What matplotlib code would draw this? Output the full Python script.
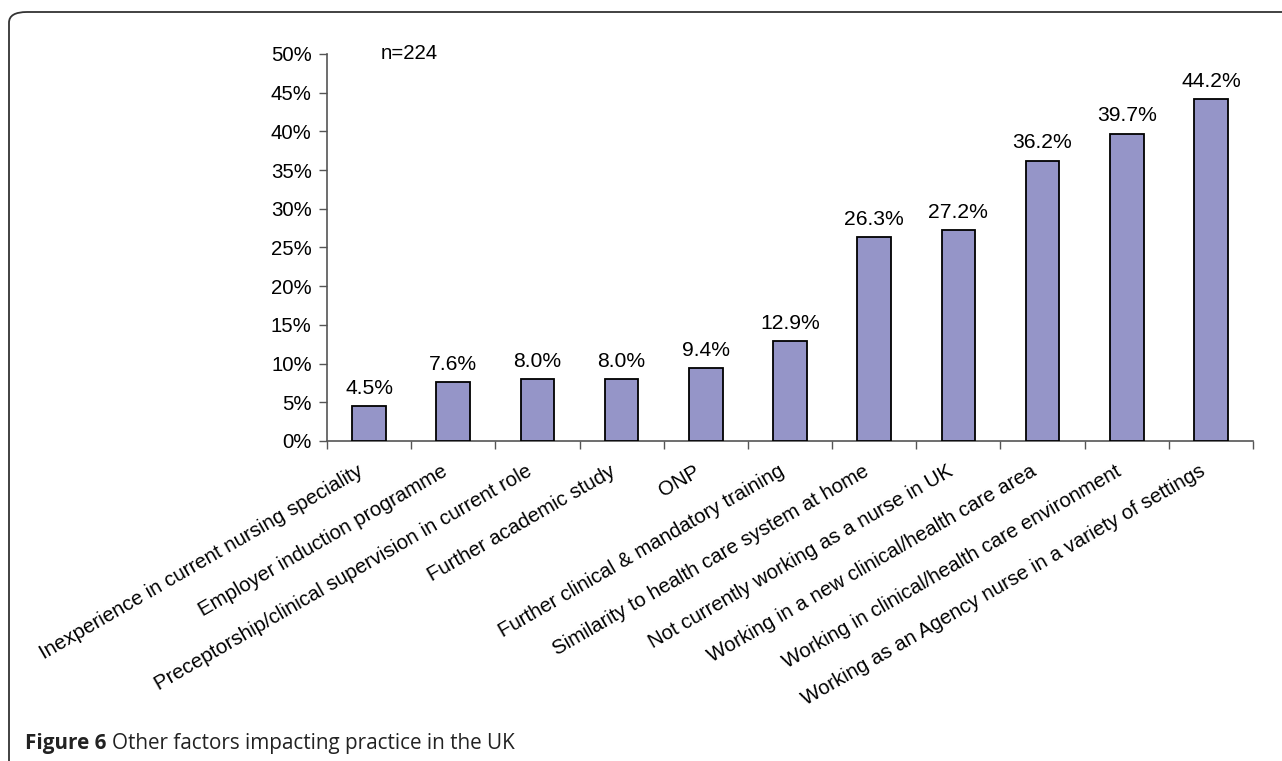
import matplotlib.pyplot as plt
from matplotlib.patches import FancyBboxPatch
from matplotlib.ticker import FixedLocator, PercentFormatter
from matplotlib.transforms import ScaledTranslation

categories = [
    "Inexperience in current nursing speciality",
    "Employer induction programme",
    "Preceptorship/clinical supervision in current role",
    "Further academic study",
    "ONP",
    "Further clinical & mandatory training",
    "Similarity to health care system at home",
    "Not currently working as a nurse in UK",
    "Working in a new clinical/health care area",
    "Working in clinical/health care environment",
    "Working as an Agency nurse in a variety of settings",
]
values = [4.5, 7.6, 8.0, 8.0, 9.4, 12.9, 26.3, 27.2, 36.2, 39.7, 44.2]
yticks = [0, 5, 10, 15, 20, 25, 30, 35, 40, 45, 50]

plt.rcParams['font.family'] = ['Liberation Sans', 'DejaVu Sans']

W, H = 1282, 761
fig = plt.figure(figsize=(W / 100, H / 100), dpi=100)

# frame around the figure panel (open to the right and bottom)
frame = FancyBboxPatch((9 / W, -0.1), 1.2, (H - 12) / H + 0.1,
                       boxstyle="round,pad=0,rounding_size=0.014",
                       transform=fig.transFigure, fill=False,
                       edgecolor='#333333', linewidth=1.3)
fig.patches.append(frame)

ax = fig.add_axes([327 / W, 1 - 441 / H, (1253 - 327) / W, (441 - 54) / H])
x = list(range(len(categories)))
ax.bar(x, values, width=0.4, color='#9595c8', edgecolor='black', linewidth=1.3, zorder=3)

for xi, v in zip(x, values):
    ax.annotate(f"{v:.1f}%", (xi, v), xytext=(0, 6), textcoords='offset points',
                ha='center', va='bottom', fontsize=15.2)

ax.set_xlim(-0.5, len(categories) - 0.5)
ax.set_ylim(0, 50)
ax.set_yticks(yticks)
ax.yaxis.set_major_formatter(PercentFormatter(decimals=0))
ax.tick_params(axis='y', labelsize=14.7, length=6, width=1, color='#555555', pad=5)

# category ticks sit between bars, labels under each bar
ax.set_xticks(x)
ax.set_xticklabels(categories, rotation=30, ha='right', va='top',
                   rotation_mode='anchor', fontsize=14.7)
ax.tick_params(axis='x', which='major', length=0, pad=15)
shift = ScaledTranslation(-12 / 100, 0, fig.dpi_scale_trans)
for lbl in ax.get_xticklabels():
    lbl.set_transform(lbl.get_transform() + shift)
ax.xaxis.set_minor_locator(FixedLocator([i - 0.5 for i in range(len(categories) + 1)]))
ax.tick_params(axis='x', which='minor', length=6, width=1, color='#555555')

for side in ['top', 'right']:
    ax.spines[side].set_visible(False)
for side in ['left', 'bottom']:
    ax.spines[side].set_color('#555555')
    ax.spines[side].set_linewidth(1.2)

ax.text(0.14, 50, "n=224", fontsize=14.7, ha='left', va='center')

fig.text(25 / W, 1 - 749 / H, "Figure 6", fontsize=14.9, fontweight='bold',
         family='Open Sans', color='#222222', va='baseline')
fig.text(112 / W, 1 - 749 / H, "Other factors impacting practice in the UK", fontsize=14.9,
         fontweight='medium', family='Open Sans', color='#222222', va='baseline')

fig.savefig('out.png', dpi=100)
